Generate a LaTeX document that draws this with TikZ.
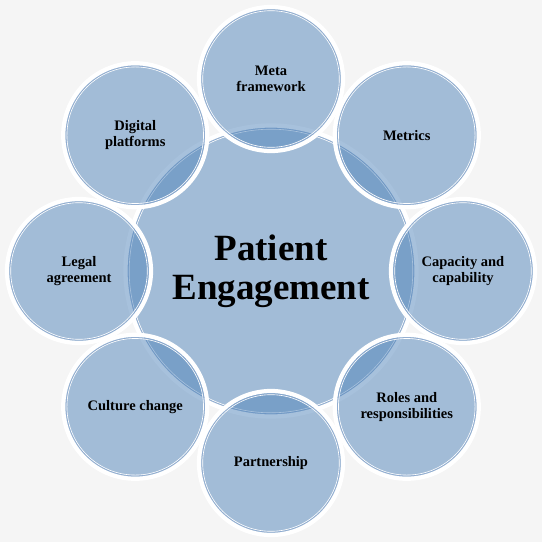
\documentclass[tikz,border=0pt]{standalone}
\usepackage{fontspec}
\setmainfont{Liberation Serif}
\usetikzlibrary{positioning}
\definecolor{bgcol}{RGB}{245,245,245}
\definecolor{discblue}{RGB}{81,133,187}
\definecolor{ringblue}{RGB}{140,168,206}

\begin{document}
\begin{tikzpicture}[x=1pt,y=1pt,
		disc/.style={circle,draw=white,line width=4.2pt,fill=discblue,
			fill opacity=0.5,text opacity=1,inner sep=0pt,align=center,
			minimum size=2*#1 pt,
			path picture={
				\draw[ringblue,line width=0.6pt] (path picture bounding box.center) circle (#1pt-2.9pt);
				\draw[white,line width=0.6pt] (path picture bounding box.center) circle (#1pt-3.7pt);}},
		main node/.style={disc=145.5,font=\bfseries\fontsize{37}{39}\selectfont},
		side node/.style={disc=72,font=\bfseries\fontsize{14.5}{15.5}\selectfont}]
		
		\fill[bgcol] (-271,-271) rectangle (271,271);
		\useasboundingbox (-271,-271) rectangle (271,271);
		
		\node[main node] (pe) at (0,0) {Patient\\Engagement};
		\node[side node] (meta) at (90:192pt) {Meta\\framework};
		\node[side node] (metrics) at (45:192pt) {Metrics};
		\node[side node] (capacity) at (0:192pt) {Capacity and\\capability};
		\node[side node] (roles) at (-45:192pt) {Roles and\\responsibilities};
		\node[side node] (partner) at (-90:192pt) {Partnership};
		\node[side node] (culture) at (-135:192pt) {Culture change};
		\node[side node] (legal) at (180:192pt) {Legal\\agreement};
		\node[side node] (digital) at (135:192pt) {Digital\\platforms};
		\end{tikzpicture}
\end{document}
